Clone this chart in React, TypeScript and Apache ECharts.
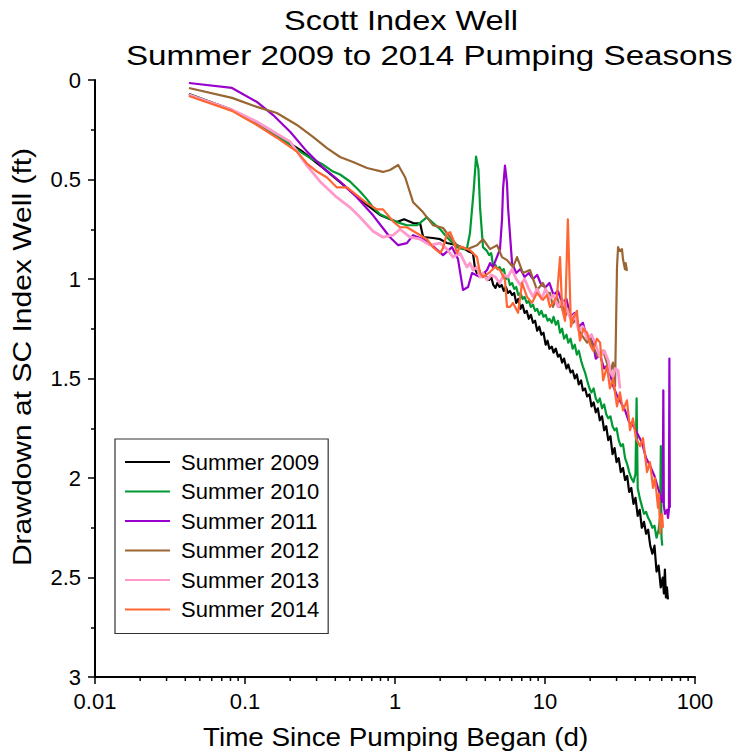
import React, { useEffect, useRef } from 'react';
import * as echarts from 'echarts';

const seriesNames = ['Summer 2009', 'Summer 2010', 'Summer 2011', 'Summer 2012', 'Summer 2013', 'Summer 2014'];
const seriesColors = ['#000000', '#009933', '#9900cc', '#996633', '#ff99cc', '#ff6633'];
const seriesWidths = [2.2, 2.2, 2.2, 2.2, 2.8, 2.2];

const xTickValues = [0.01, 0.1, 1, 10, 100];
const xTickLabels = ['0.01', '0.1', '1', '10', '100'];
const yTickLabels = ['0', '0.5', '1', '1.5', '2', '2.5', '3'];
const xMinorTicks = [0.02, 0.03, 0.04, 0.05, 0.06, 0.07, 0.08, 0.09, 0.2, 0.3, 0.4, 0.5, 0.6, 0.7, 0.8, 0.9, 2, 3, 4, 5, 6, 7, 8, 9, 20, 30, 40, 50, 60, 70, 80, 90];

const summer2009 = [
  [0.0423, 0.07], [0.0819, 0.15], [0.163, 0.276], [0.244, 0.362], [0.331, 0.442], [0.43, 0.513], [0.651, 0.628], [0.794, 0.678],
  [1.03, 0.714], [1.15, 0.7], [1.32, 0.719], [1.47, 0.72], [1.54, 0.789], [1.79, 0.794], [2.0, 0.8], [2.22, 0.819], [2.59, 0.83],
  [2.84, 0.844], [3.07, 0.86], [3.31, 0.87], [3.42, 0.95], [3.52, 0.97], [3.62, 0.95], [3.74, 0.98], [3.86, 0.99], [3.98, 0.97],
  [4.11, 1.0], [4.24, 1.005], [4.38, 0.99], [4.52, 1.03], [4.67, 1.045], [4.82, 1.02], [4.98, 1.04], [5.14, 1.03], [5.31, 1.06],
  [5.48, 1.04], [5.66, 1.07], [5.84, 1.06], [6.03, 1.08], [6.23, 1.07], [6.43, 1.12], [6.64, 1.1], [6.86, 1.15], [7.08, 1.13],
  [7.31, 1.17], [7.55, 1.16], [7.8, 1.2], [8.05, 1.18], [8.32, 1.22], [8.59, 1.21], [8.87, 1.26], [9.16, 1.24], [9.46, 1.28],
  [9.77, 1.27], [10.1, 1.33], [10.4, 1.31], [10.7, 1.35], [11.1, 1.34], [11.4, 1.37], [11.8, 1.35], [12.2, 1.39], [12.6, 1.38],
  [13.0, 1.42], [13.4, 1.4], [13.9, 1.45], [14.3, 1.43], [14.8, 1.47], [15.3, 1.46], [15.8, 1.5], [16.3, 1.48], [16.8, 1.53],
  [17.4, 1.51], [17.9, 1.56], [18.5, 1.55], [19.1, 1.59], [19.8, 1.58], [20.4, 1.64], [21.1, 1.62], [21.8, 1.67], [22.5, 1.65],
  [23.2, 1.71], [24.0, 1.69], [24.8, 1.76], [25.6, 1.74], [26.4, 1.81], [27.3, 1.79], [28.2, 1.88], [29.1, 1.85], [30.0, 1.92],
  [31.0, 1.9], [32.0, 1.97], [33.1, 1.95], [34.2, 2.01], [35.3, 1.99], [36.4, 2.07], [37.6, 2.05], [38.9, 2.13], [40.1, 2.1],
  [41.5, 2.19], [42.8, 2.16], [44.2, 2.25], [45.7, 2.22], [47.2, 2.28], [48.7, 2.26], [50.3, 2.34], [52.0, 2.38], [53.7, 2.34],
  [55.4, 2.47], [57.2, 2.44], [59.1, 2.55], [61.0, 2.5], [62.0, 2.58], [63.0, 2.46], [64.0, 2.6], [65.0, 2.55], [66.0, 2.61],
];

const summer2010 = [
  [0.0423, 0.072], [0.0819, 0.152], [0.163, 0.28], [0.244, 0.37], [0.284, 0.4], [0.331, 0.425], [0.386, 0.46], [0.43, 0.475],
  [0.501, 0.51], [0.585, 0.56], [0.651, 0.6], [0.714, 0.64], [0.794, 0.675], [1.03, 0.714], [1.2, 0.73], [1.4, 0.73], [1.63, 0.69],
  [1.79, 0.718], [2.0, 0.75], [2.22, 0.79], [2.59, 0.84], [2.84, 0.85], [3.02, 0.845], [3.16, 0.77], [3.35, 0.55], [3.47, 0.385],
  [3.6, 0.45], [3.69, 0.64], [3.86, 0.84], [4.11, 0.86], [4.24, 0.88], [4.38, 0.87], [4.52, 0.94], [4.67, 0.93], [4.82, 0.95],
  [4.98, 0.94], [5.14, 0.96], [5.31, 0.95], [5.48, 1.0], [5.66, 0.99], [5.84, 1.03], [6.03, 1.02], [6.23, 1.05], [6.43, 1.04],
  [6.64, 1.08], [6.86, 1.07], [7.08, 1.1], [7.31, 1.09], [7.55, 1.12], [7.8, 1.11], [8.05, 1.14], [8.32, 1.13], [8.59, 1.16],
  [8.87, 1.15], [9.16, 1.18], [9.46, 1.16], [9.77, 1.19], [10.1, 1.18], [10.4, 1.21], [10.7, 1.2], [11.1, 1.22], [11.4, 1.19],
  [11.8, 1.23], [12.2, 1.21], [12.6, 1.27], [13.0, 1.25], [13.4, 1.3], [13.9, 1.28], [14.3, 1.32], [14.8, 1.3], [15.3, 1.35],
  [15.8, 1.33], [16.3, 1.38], [16.8, 1.36], [17.4, 1.41], [17.9, 1.44], [18.5, 1.47], [19.1, 1.51], [19.8, 1.55], [20.4, 1.57],
  [21.1, 1.55], [21.8, 1.6], [22.5, 1.62], [23.2, 1.6], [24.0, 1.65], [24.8, 1.63], [25.6, 1.68], [26.4, 1.7], [27.3, 1.69],
  [28.2, 1.74], [29.1, 1.76], [30.0, 1.75], [31.0, 1.81], [32.0, 1.84], [33.1, 1.83], [34.2, 1.9], [35.3, 1.93], [36.4, 1.97],
  [37.6, 2.0], [38.9, 2.02], [40.1, 1.98], [40.8, 1.6], [41.5, 2.05], [42.8, 2.1], [44.2, 2.14], [45.7, 2.18], [47.2, 2.17],
  [48.7, 2.2], [50.3, 2.22], [52.0, 2.25], [53.7, 2.24], [55.4, 2.3], [57.2, 2.26], [58.5, 2.2], [59.2, 1.84], [59.8, 2.3],
  [60.5, 2.34],
];

const summer2011 = [
  [0.0423, 0.015], [0.0819, 0.04], [0.12, 0.11], [0.154, 0.176], [0.2, 0.26], [0.259, 0.36], [0.331, 0.44], [0.43, 0.51],
  [0.558, 0.59], [0.714, 0.68], [0.832, 0.745], [0.926, 0.79], [1.05, 0.83], [1.2, 0.82], [1.32, 0.78], [1.54, 0.8], [1.79, 0.835],
  [2.09, 0.88], [2.4, 0.84], [2.63, 0.9], [2.84, 1.055], [3.07, 1.04], [3.26, 0.97], [3.69, 0.99], [4.11, 0.955], [4.3, 0.92],
  [4.5, 0.94], [5.01, 0.85], [5.17, 0.7], [5.25, 0.55], [5.41, 0.43], [5.58, 0.52], [5.67, 0.64], [6.03, 0.92], [6.43, 0.97],
  [6.86, 0.95], [7.31, 0.99], [7.8, 0.97], [8.32, 1.0], [8.87, 0.98], [9.46, 1.03], [10.1, 1.04], [10.7, 1.02], [11.4, 1.08],
  [12.2, 1.06], [13.0, 1.12], [13.9, 1.1], [14.8, 1.19], [15.8, 1.17], [16.8, 1.24], [17.9, 1.22], [19.1, 1.3], [20.4, 1.28],
  [21.8, 1.4], [23.2, 1.38], [24.8, 1.45], [26.4, 1.43], [28.2, 1.53], [30.0, 1.58], [32.0, 1.62], [34.2, 1.66], [36.4, 1.72],
  [38.9, 1.74], [41.5, 1.78], [44.2, 1.82], [47.2, 1.9], [50.3, 1.94], [53.7, 1.99], [57.2, 2.06], [60.3, 2.12], [61.0, 2.08],
  [61.5, 1.56], [62.0, 2.14], [63.1, 2.18], [65.1, 2.16], [66.1, 2.2], [67.0, 2.16], [67.5, 1.4], [68.0, 2.15],
];

const summer2012 = [
  [0.0423, 0.04], [0.0819, 0.09], [0.12, 0.135], [0.163, 0.166], [0.222, 0.226], [0.284, 0.286], [0.352, 0.342], [0.43, 0.387],
  [0.525, 0.412], [0.651, 0.442], [0.832, 0.462], [0.926, 0.452], [1.05, 0.427], [1.17, 0.49], [1.32, 0.614], [1.54, 0.665],
  [1.79, 0.729], [2.09, 0.744], [2.33, 0.789], [2.59, 0.83], [3.02, 0.85], [3.52, 0.83], [3.86, 0.8], [4.3, 0.85], [4.79, 0.83],
  [5.17, 0.89], [5.58, 0.905], [6.12, 0.94], [6.51, 0.89], [7.13, 0.97], [7.94, 0.955], [8.84, 1.055], [9.7, 1.02], [10.3, 1.07],
  [10.8, 1.07], [11.3, 1.14], [12.0, 1.09], [12.6, 1.14], [13.0, 1.1], [13.6, 1.19], [14.2, 1.15], [15.4, 1.22], [16.3, 1.2],
  [17.1, 1.27], [19.1, 1.32], [20.0, 1.3], [20.9, 1.34], [22.6, 1.39], [24.4, 1.36], [27.1, 1.47], [28.4, 1.42], [29.3, 1.54],
  [30.2, 0.94], [30.7, 0.84], [31.6, 0.86], [32.6, 0.85], [33.1, 0.9], [34.1, 0.95], [34.5, 0.92], [35.2, 0.96],
];

const summer2013 = [
  [0.0423, 0.075], [0.0819, 0.15], [0.12, 0.21], [0.163, 0.27], [0.2, 0.31], [0.259, 0.43], [0.316, 0.51], [0.41, 0.59],
  [0.501, 0.64], [0.585, 0.69], [0.714, 0.76], [0.832, 0.79], [0.97, 0.78], [1.08, 0.75], [1.26, 0.79], [1.47, 0.8], [1.71, 0.83],
  [2.0, 0.82], [2.22, 0.85], [2.44, 0.89], [2.71, 0.87], [3.02, 0.94], [3.16, 0.92], [3.31, 0.955], [3.52, 0.94], [3.69, 0.99],
  [3.86, 0.97], [4.11, 1.005], [4.38, 0.98], [4.67, 0.99], [4.98, 1.02], [5.31, 0.98], [5.66, 0.99], [6.03, 0.95], [6.43, 1.0],
  [6.86, 1.03], [7.31, 1.0], [7.8, 1.05], [8.32, 1.09], [8.87, 1.05], [9.46, 1.1], [10.1, 1.05], [10.7, 1.1], [11.4, 1.08],
  [12.2, 1.14], [13.0, 1.11], [13.9, 1.15], [14.8, 1.2], [15.8, 1.18], [16.8, 1.26], [17.9, 1.24], [19.1, 1.3], [20.4, 1.28],
  [21.8, 1.33], [23.2, 1.39], [24.8, 1.36], [26.4, 1.41], [27.3, 1.47], [28.4, 1.49], [29.3, 1.45], [30.7, 1.46], [31.6, 1.55],
];

const summer2014 = [
  [0.0423, 0.08], [0.0819, 0.155], [0.12, 0.226], [0.163, 0.29], [0.222, 0.36], [0.259, 0.42], [0.302, 0.46], [0.352, 0.49],
  [0.41, 0.54], [0.479, 0.54], [0.558, 0.58], [0.651, 0.62], [0.759, 0.65], [0.832, 0.65], [0.97, 0.71], [1.08, 0.74], [1.2, 0.74],
  [1.4, 0.77], [1.63, 0.8], [1.79, 0.84], [2.0, 0.87], [2.09, 0.845], [2.22, 0.77], [2.33, 0.765], [2.44, 0.8], [2.59, 0.87],
  [2.71, 0.84], [2.84, 0.84], [3.16, 0.855], [3.52, 0.89], [3.69, 0.97], [3.86, 0.99], [4.3, 0.965], [4.64, 0.94], [5.01, 0.955],
  [5.41, 1.005], [5.58, 1.14], [5.85, 1.14], [6.12, 1.12], [6.61, 1.17], [7.03, 1.02], [7.59, 1.09], [8.19, 1.12], [8.84, 1.07],
  [9.7, 1.105], [10.3, 1.08], [10.8, 1.14], [11.3, 1.12], [12.0, 1.09], [12.6, 0.89], [13.0, 1.15], [13.6, 1.21], [14.2, 0.7],
  [14.9, 1.24], [15.4, 1.2], [16.3, 1.16], [16.8, 1.26], [17.1, 1.31], [18.0, 1.25], [19.1, 1.27], [20.0, 1.33], [20.9, 1.36],
  [22.2, 1.3], [23.3, 1.32], [24.4, 1.51], [25.9, 1.44], [27.1, 1.55], [28.4, 1.5], [30.2, 1.64], [31.6, 1.57], [33.1, 1.66],
  [35.2, 1.61], [36.9, 1.76], [38.6, 1.7], [40.4, 1.8], [43.0, 1.84], [45.0, 1.8], [47.9, 1.97], [50.1, 1.92], [52.5, 2.05],
  [54.1, 2.0], [56.7, 2.15], [57.5, 2.08], [58.5, 2.28], [60.3, 2.18], [61.2, 2.25],
];

const FONT = "'Liberation Sans', Arial, Helvetica, sans-serif";

export default function App() {
  const ref = useRef<HTMLDivElement>(null);
  useEffect(() => {
    if (!ref.current) return;
    const chart = echarts.init(ref.current, null, { renderer: 'svg' });
    const allData = [summer2009, summer2010, summer2011, summer2012, summer2013, summer2014];
    const lineSeries = seriesNames.map((name, i) => ({
      name,
      type: 'line',
      data: allData[i],
      symbol: 'none',
      showSymbol: false,
      clip: true,
      z: 2 + i,
      lineStyle: { color: seriesColors[i], width: seriesWidths[i], join: 'round' },
      itemStyle: { color: seriesColors[i] },
      emphasis: { disabled: true },
    }));
    chart.setOption({
      animation: false,
      backgroundColor: '#ffffff',
      textStyle: { fontFamily: FONT, color: '#000' },
      grid: { left: 95, right: 42, top: 80, bottom: 78, containLabel: false, outerBoundsMode: 'none' },
      legend: {
        data: seriesNames,
        orient: 'vertical',
        left: 115,
        top: 439,
        padding: [12, 9, 13, 10],
        itemGap: 7.5,
        itemWidth: 45,
        itemHeight: 2,
        icon: 'rect',
        borderColor: '#333',
        borderWidth: 1.2,
        backgroundColor: '#fff',
        textStyle: { fontFamily: FONT, fontSize: 22, lineHeight: 20, color: '#000', padding: [0, 0, 0, 6] },
        selectedMode: false,
      },
      xAxis: {
        type: 'log',
        logBase: 10,
        min: 0.01,
        max: 100,
        axisLine: { show: true, onZero: false, lineStyle: { color: '#000', width: 2 } },
        axisTick: { show: true, inside: false, length: 7, lineStyle: { color: '#000', width: 1.5 } },
        minorTick: { show: false },
        splitLine: { show: false },
        axisLabel: {
          fontFamily: FONT,
          fontSize: 22,
          color: '#000',
          margin: 13,
          formatter: (v: number) => {
            let best = 0;
            for (let k = 0; k < xTickValues.length; k++) {
              if (Math.abs(Math.log10(v) - Math.log10(xTickValues[k])) < Math.abs(Math.log10(v) - Math.log10(xTickValues[best]))) best = k;
            }
            return xTickLabels[best];
          },
        },
      },
      yAxis: {
        type: 'value',
        inverse: true,
        min: 0,
        max: 3,
        interval: 0.5,
        axisLine: { show: true, onZero: false, lineStyle: { color: '#000', width: 2 } },
        axisTick: { show: true, inside: false, length: 7, lineStyle: { color: '#000', width: 1.5 } },
        minorTick: { show: true, splitNumber: 2, length: 4, lineStyle: { color: '#000', width: 1.5 } },
        splitLine: { show: false },
        minorSplitLine: { show: false },
        axisLabel: {
          fontFamily: FONT,
          fontSize: 22,
          color: '#000',
          margin: 14,
          formatter: (v: number) => yTickLabels[Math.round(v / 0.5)] ?? '',
        },
      },
      graphic: [
        {
          type: 'text', x: 284, y: 20, scaleX: 1.16, silent: true,
          style: { text: 'Scott Index Well', fontFamily: FONT, fontSize: 28, fill: '#000', textAlign: 'left', textVerticalAlign: 'middle' },
        },
        {
          type: 'text', x: 126, y: 55, scaleX: 1.185, silent: true,
          style: { text: 'Summer 2009 to 2014 Pumping Seasons', fontFamily: FONT, fontSize: 28, fill: '#000', textAlign: 'left', textVerticalAlign: 'middle' },
        },
        {
          type: 'text', x: 203, y: 737, scaleX: 1.07, silent: true,
          style: { text: 'Time Since Pumping Began (d)', fontFamily: FONT, fontSize: 26, fill: '#000', textAlign: 'left', textVerticalAlign: 'middle' },
        },
        {
          type: 'text', x: 22, y: 357, rotation: Math.PI / 2, scaleX: 1.155, silent: true,
          style: { text: 'Drawdown at SC Index Well (ft)', fontFamily: FONT, fontSize: 26, fill: '#000', textAlign: 'center', textVerticalAlign: 'middle' },
        },
      ],
      series: [
        ...lineSeries,
        {
          type: 'custom',
          name: 'xMinorTicks',
          silent: true,
          clip: false,
          z: 10,
          data: xMinorTicks.map((v) => [v, 3]),
          renderItem: (_params: any, api: any) => {
            const p = api.coord([api.value(0), api.value(1)]);
            return {
              type: 'line',
              shape: { x1: p[0], y1: p[1], x2: p[0], y2: p[1] + 4 },
              style: { stroke: '#000', lineWidth: 1.5 },
            };
          },
        },
      ],
    });
    return () => chart.dispose();
  }, []);
  return <div ref={ref} style={{ position: 'fixed', left: 0, top: 0, width: 737, height: 755 }} />;
}
